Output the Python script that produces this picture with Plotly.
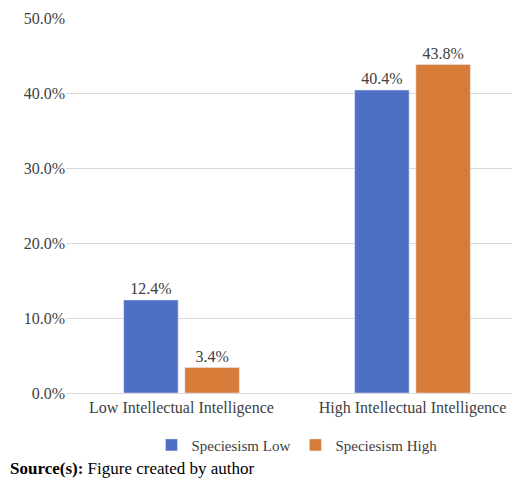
import plotly.graph_objects as go

categories = ["Low Intellectual Intelligence", "High Intellectual Intelligence"]
low = [0.124, 0.404]
high = [0.034, 0.438]
ticks = [0, 0.1, 0.2, 0.3, 0.4, 0.5]

font = dict(family="Liberation Serif", size=16, color="#404040")
fig = go.Figure()
fig.add_bar(x=categories, y=low, name="Speciesism Low", marker_color="#4F6FC5",
            text=[f"{v:.1%}" for v in low], textposition="outside", cliponaxis=False)
fig.add_bar(x=categories, y=high, name="Speciesism High", marker_color="#D77B38",
            text=[f"{v:.1%}" for v in high], textposition="outside", cliponaxis=False)
fig.update_layout(
    width=520, height=482, margin=dict(l=58, r=0, t=10, b=97, autoexpand=False),
    plot_bgcolor="white", paper_bgcolor="white", font=font,
    bargap=0.47, bargroupgap=0.11, barmode="group",
    legend=dict(orientation="h", x=0.5, xanchor="center", y=-0.095, yanchor="top",
                font=dict(family="Liberation Serif", size=15, color="#404040")),
    annotations=[dict(text="<b>Source(s):</b> Figure created by author", xref="paper", yref="paper",
                      x=-58/462, xanchor="left", y=-0.17, yanchor="top", showarrow=False,
                      font=dict(family="Liberation Serif", size=17, color="black"))],
)
fig.update_yaxes(range=[0, 0.5], tickvals=ticks, tickformat=".1%", gridcolor="#D9D9D9",
                 zeroline=False, showline=False, ticks="", ticklen=0, automargin=False)
fig.update_xaxes(showline=True, linecolor="#D9D9D9", ticks="", automargin=False)
fig.update_traces(textfont=dict(family="Liberation Serif", size=16, color="#404040"))
fig.write_html("out.html")
